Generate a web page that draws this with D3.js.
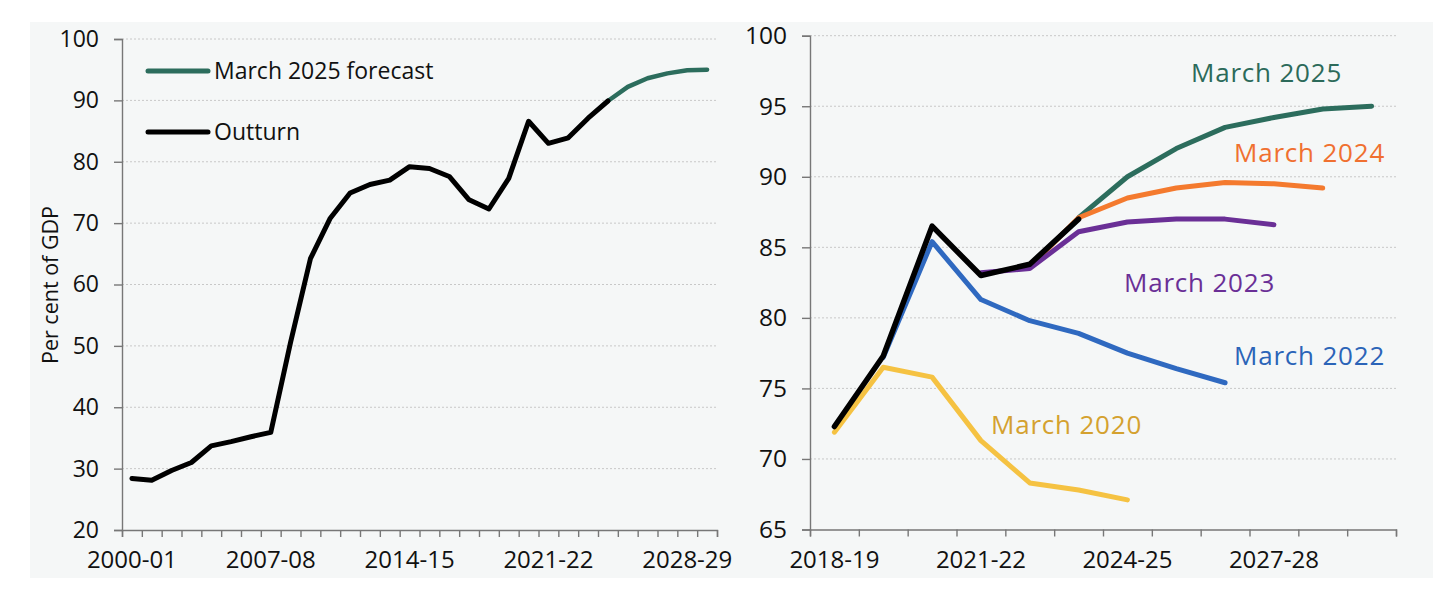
<!DOCTYPE html>
<html>
<head>
<meta charset="utf-8">
<script src="https://cdn.jsdelivr.net/npm/d3@7"></script>
<style>
  body { margin: 0; background: #fff; }
  text { font-family: "Open Sans", sans-serif; }
</style>
</head>
<body>
<script>
// left panel: 2000-01 .. 2029-30
const leftYears = d3.range(2000, 2030).map(y => y + "-" + String((y + 1) % 100).padStart(2, "0"));
const leftXLabels = ["2000-01", "2007-08", "2014-15", "2021-22", "2028-29"];
const leftYTicks = [20, 30, 40, 50, 60, 70, 80, 90, 100];
const outturnLong = [28.4, 28.1, 29.7, 31.0, 33.7, 34.4, 35.2, 35.9, 50.6, 64.2,
  70.8, 74.9, 76.3, 77.0, 79.2, 78.9, 77.6, 73.8, 72.3, 77.3,
  86.6, 83.0, 83.9, 87.1, 89.9, null, null, null, null, null];
const forecastLong = [null, null, null, null, null, null, null, null, null, null,
  null, null, null, null, null, null, null, null, null, null,
  null, null, null, null, 89.9, 92.2, 93.6, 94.4, 94.9, 95.0];

// right panel: 2018-19 .. 2029-30
const rightYears = d3.range(2018, 2030).map(y => y + "-" + String((y + 1) % 100).padStart(2, "0"));
const rightXLabels = ["2018-19", "2021-22", "2024-25", "2027-28"];
const rightYTicks = [65, 70, 75, 80, 85, 90, 95, 100];
const outturnShort = [72.3, 77.3, 86.5, 83.0, 83.8, 87.0, null, null, null, null, null, null];
const march2025 = [null, null, null, null, null, 87.1, 90.0, 92.0, 93.5, 94.2, 94.8, 95.0];
const march2024 = [null, null, null, null, 83.6, 87.1, 88.5, 89.2, 89.6, 89.5, 89.2, null];
const march2023 = [null, null, null, 83.2, 83.5, 86.1, 86.8, 87.0, 87.0, 86.6, null, null];
const march2022 = [null, 77.2, 85.4, 81.3, 79.8, 78.9, 77.5, 76.4, 75.4, null, null, null];
const march2020 = [71.9, 76.5, 75.8, 71.3, 68.3, 67.8, 67.1, null, null, null, null, null];

const width = 1456, height = 591;
const svg = d3.select("body").append("svg")
  .attr("width", width)
  .attr("height", height);

svg.append("rect")
  .attr("x", 30).attr("y", 22)
  .attr("width", 1403).attr("height", 556)
  .attr("fill", "#f5f7f7");

function panel(opts) {
  const g = svg.append("g");
  const x = d3.scaleBand().domain(opts.years).range([opts.x0, opts.x1]);
  const xEdge = d3.scaleLinear().domain([0, opts.years.length]).range([opts.x0, opts.x1]);
  const y = d3.scaleLinear().domain(opts.yDomain).range([opts.y0, opts.y1]);
  const cx = d => x(d) + x.bandwidth() / 2;

  // gridlines
  g.append("g").selectAll("line")
    .data(opts.yTicks.slice(1))
    .join("line")
    .attr("x1", opts.x0).attr("x2", opts.x1)
    .attr("y1", d => y(d)).attr("y2", d => y(d))
    .attr("stroke", "#c8c8c8")
    .attr("stroke-width", 1)
    .attr("stroke-dasharray", "2,2");

  // y axis
  const ya = g.append("g")
    .attr("transform", `translate(${opts.x0},0)`)
    .call(d3.axisLeft(y).tickValues(opts.yTicks).tickSize(8).tickPadding(opts.yPad));
  ya.select(".domain").attr("stroke", "#777").attr("stroke-width", 1.4);
  ya.selectAll(".tick line").attr("stroke", "#777").attr("stroke-width", 1.4);
  ya.selectAll("text").attr("font-size", opts.yFont).attr("fill", "#111");

  // x axis tick marks at category edges
  const xa = g.append("g")
    .attr("transform", `translate(0,${opts.y0})`)
    .call(d3.axisBottom(xEdge).tickValues(d3.range(opts.years.length + 1)).tickSize(7).tickFormat(""));
  xa.select(".domain").attr("stroke", "#777").attr("stroke-width", 1.4);
  xa.selectAll(".tick line").attr("stroke", "#777").attr("stroke-width", 1.4);

  // x axis labels
  const xl = g.append("g")
    .attr("transform", `translate(0,${opts.y0})`)
    .call(d3.axisBottom(x).tickValues(opts.xLabels).tickSize(0).tickPadding(21));
  xl.select(".domain").remove();
  xl.selectAll("text").attr("font-size", 24).attr("fill", "#111");

  const line = d3.line()
    .defined(d => d.v != null)
    .x(d => cx(d.k))
    .y(d => y(d.v));

  opts.series.forEach(s => {
    g.append("path")
      .datum(opts.years.map((k, i) => ({ k, v: s.values[i] })))
      .attr("d", line)
      .attr("fill", "none")
      .attr("stroke", s.color)
      .attr("stroke-width", s.w)
      .attr("stroke-linejoin", "round")
      .attr("stroke-linecap", "round");
  });
  return { g, x, y };
}

const left = panel({
  years: leftYears, xLabels: leftXLabels, yTicks: leftYTicks,
  x0: 122, x1: 717, y0: 530, y1: 39, yDomain: [20, 100], yPad: 15, yFont: 23,
  series: [
    { values: forecastLong, color: "#2c6d5d", w: 4.5 },
    { values: outturnLong, color: "#000", w: 5 }
  ]
});

svg.append("text")
  .attr("transform", "translate(58,285) rotate(-90)")
  .attr("text-anchor", "middle")
  .attr("font-size", 21.5)
  .attr("fill", "#111")
  .text("Per cent of GDP");

// legend
const legend = [
  { name: "March 2025 forecast", color: "#2c6d5d", y: 71 },
  { name: "Outturn", color: "#000", y: 132 }
];
legend.forEach(d => {
  svg.append("line")
    .attr("x1", 148).attr("x2", 208)
    .attr("y1", d.y).attr("y2", d.y)
    .attr("stroke", d.color).attr("stroke-width", 5)
    .attr("stroke-linecap", "round");
  svg.append("text")
    .attr("x", 214).attr("y", d.y + 8)
    .attr("font-size", 23)
    .attr("fill", "#111")
    .text(d.name);
});

const right = panel({
  years: rightYears, xLabels: rightXLabels, yTicks: rightYTicks,
  x0: 810, x1: 1396, y0: 529.5, y1: 35.7, yDomain: [65, 100], yPad: 15, yFont: 24.5,
  series: [
    { values: march2025, color: "#2c6d5d", w: 5 },
    { values: march2024, color: "#f47a2e", w: 5 },
    { values: march2023, color: "#6a2f96", w: 5 },
    { values: march2022, color: "#2f69c0", w: 5 },
    { values: march2020, color: "#f5c242", w: 5 },
    { values: outturnShort, color: "#000", w: 5.5 }
  ]
});

const labels = [
  { name: "March 2025", color: "#2c6a5a", x: 1191, y: 82 },
  { name: "March 2024", color: "#f07030", x: 1234, y: 162 },
  { name: "March 2023", color: "#6a2f96", x: 1124, y: 292 },
  { name: "March 2022", color: "#2b64b8", x: 1234, y: 365 },
  { name: "March 2020", color: "#d4a12f", x: 991, y: 434 }
];
svg.append("g").selectAll("text")
  .data(labels)
  .join("text")
  .attr("x", d => d.x).attr("y", d => d.y)
  .attr("font-size", 26)
  .attr("letter-spacing", 0.8)
  .attr("fill", d => d.color)
  .text(d => d.name);
</script>
</body>
</html>
